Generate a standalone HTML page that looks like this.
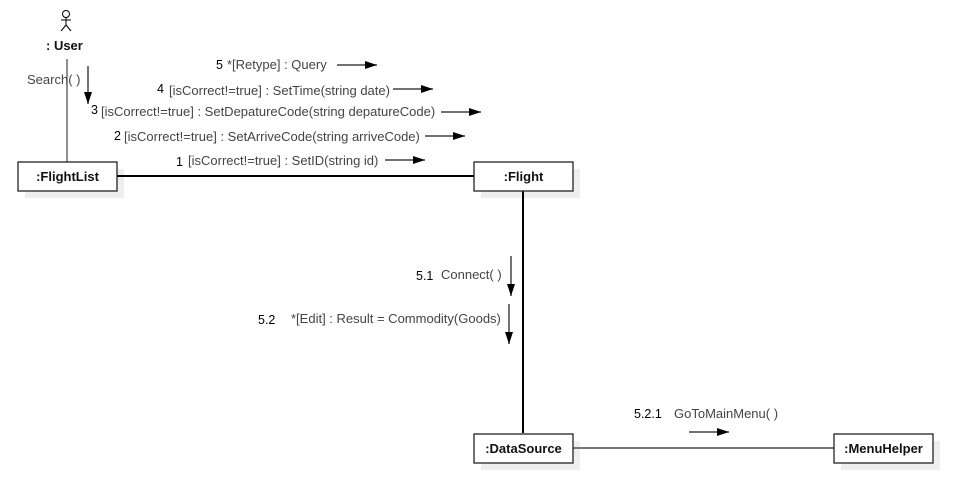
<!DOCTYPE html>
<html><head><meta charset="utf-8"><style>
html,body{margin:0;padding:0;background:#fff;}
svg{display:block;}
text{font-family:"Liberation Sans",Arial,sans-serif;}
.m{font-size:13px;fill:#444;}
.n{font-size:12.5px;fill:#000;}
.b{font-size:13px;font-weight:bold;fill:#111;}
</style></head><body>
<svg width="973" height="503" viewBox="0 0 973 503" xmlns="http://www.w3.org/2000/svg">
<defs>
<marker id="ah" markerWidth="12" markerHeight="8" refX="12" refY="4" orient="auto" markerUnits="userSpaceOnUse">
<path d="M0,0 L12,4 L0,8 Z" fill="#000"/></marker>
</defs>
<!-- shadows -->
<rect x="25" y="169" width="99" height="29" fill="#eee"/>
<rect x="481" y="169" width="99" height="29" fill="#eee"/>
<rect x="481" y="441" width="99" height="29" fill="#eee"/>
<rect x="841" y="441" width="99" height="29" fill="#eee"/>
<!-- actor -->
<circle cx="66" cy="14" r="3.5" fill="none" stroke="#000" stroke-width="1"/>
<line x1="66" y1="17.5" x2="66" y2="25" stroke="#000"/>
<line x1="61" y1="20" x2="71" y2="20" stroke="#000"/>
<line x1="66" y1="25" x2="61" y2="31" stroke="#000"/>
<line x1="66" y1="25" x2="71" y2="31" stroke="#000"/>
<text x="46" y="50" class="b">: User</text>
<line x1="67" y1="59" x2="67" y2="162" stroke="#444" stroke-width="1.2"/>
<text x="27" y="84" class="m">Search( )</text>
<line x1="88" y1="66" x2="88" y2="104" stroke="#444" stroke-width="1.5" marker-end="url(#ah)"/>

<!-- connectors -->
<line x1="117" y1="176" x2="474" y2="176" stroke="#000" stroke-width="2"/>
<line x1="523" y1="191" x2="523" y2="433" stroke="#000" stroke-width="2"/>
<line x1="573" y1="448" x2="834" y2="448" stroke="#777" stroke-width="2"/>

<!-- boxes -->
<rect x="18" y="162" width="99" height="29" fill="#fff" stroke="#222" stroke-width="1.3"/>
<text x="67.5" y="181" text-anchor="middle" class="b">:FlightList</text>
<rect x="474" y="162" width="99" height="29" fill="#fff" stroke="#222" stroke-width="1.3"/>
<text x="523.5" y="181" text-anchor="middle" class="b">:Flight</text>
<rect x="474" y="434" width="99" height="29" fill="#fff" stroke="#222" stroke-width="1.3"/>
<text x="523.5" y="453" text-anchor="middle" class="b">:DataSource</text>
<rect x="834" y="434" width="99" height="29" fill="#fff" stroke="#222" stroke-width="1.3"/>
<text x="883.5" y="453" text-anchor="middle" class="b">:MenuHelper</text>

<!-- messages -->
<text x="216" y="69" class="n">5</text><text x="227" y="69" class="m">*[Retype] : Query</text>
<line x1="337" y1="65" x2="377" y2="65" stroke="#444" stroke-width="1.5" marker-end="url(#ah)"/>
<text x="157" y="93" class="n">4</text><text x="169" y="95" class="m">[isCorrect!=true] : SetTime(string date)</text>
<line x1="393" y1="89" x2="433" y2="89" stroke="#444" stroke-width="1.5" marker-end="url(#ah)"/>
<text x="91" y="114" class="n">3</text><text x="101" y="116" class="m">[isCorrect!=true] : SetDepatureCode(string depatureCode)</text>
<line x1="441" y1="112" x2="481" y2="112" stroke="#444" stroke-width="1.5" marker-end="url(#ah)"/>
<text x="114" y="140" class="n">2</text><text x="124" y="141" class="m">[isCorrect!=true] : SetArriveCode(string arriveCode)</text>
<line x1="425" y1="136" x2="465" y2="136" stroke="#444" stroke-width="1.5" marker-end="url(#ah)"/>
<text x="176" y="166" class="n">1</text><text x="188" y="165" class="m">[isCorrect!=true] : SetID(string id)</text>
<line x1="385" y1="160" x2="425" y2="160" stroke="#444" stroke-width="1.5" marker-end="url(#ah)"/>

<text x="416" y="280" class="n">5.1</text><text x="441" y="279" class="m">Connect( )</text>
<line x1="511" y1="256" x2="511" y2="296" stroke="#444" stroke-width="1.5" marker-end="url(#ah)"/>
<text x="258" y="324" class="n">5.2</text><text x="291" y="323" class="m">*[Edit] : Result = Commodity(Goods)</text>
<line x1="509" y1="304" x2="509" y2="344" stroke="#444" stroke-width="1.5" marker-end="url(#ah)"/>

<text x="634" y="418" class="n">5.2.1</text><text x="674" y="418" class="m">GoToMainMenu( )</text>
<line x1="689" y1="432" x2="729" y2="432" stroke="#444" stroke-width="1.5" marker-end="url(#ah)"/>
</svg>
</body></html>
